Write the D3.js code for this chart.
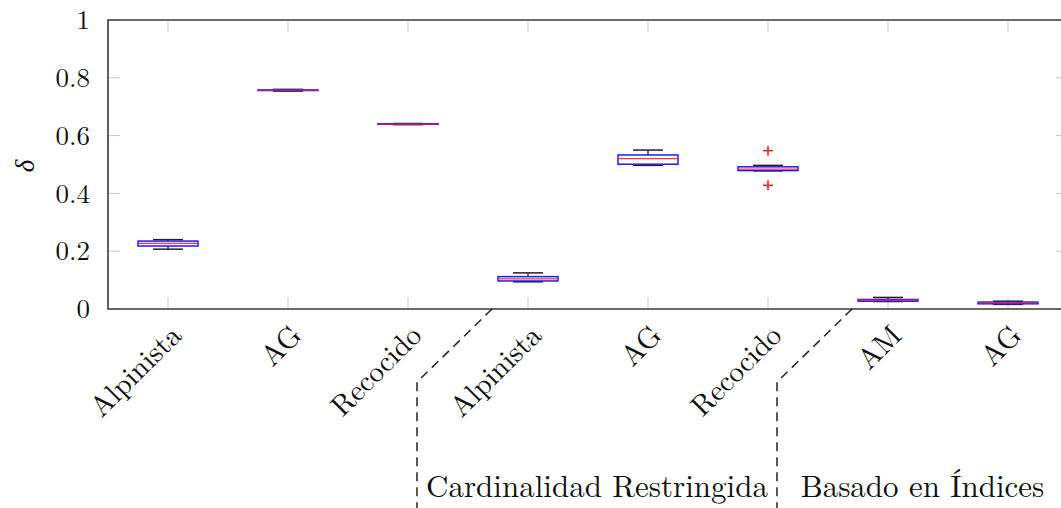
<!DOCTYPE html>
<html><head><meta charset="utf-8">
<script src="https://cdn.jsdelivr.net/npm/d3@7"></script>
<style>
html,body{margin:0;padding:0;background:#fff;}
svg{display:block;}
</style></head>
<body>
<svg id="chart" width="1061" height="508"></svg>
<script>
// ---- data ----
const categories = ["Alpinista","AG","Recocido","Alpinista","AG","Recocido","AM","AG"];
const mins    = [0.207,0.754,0.638,0.094,0.497,0.478,0.026,0.016];
const q1s     = [0.218,0.756,0.639,0.097,0.501,0.479,0.027,0.018];
const medians = [0.227,0.757,0.640,0.104,0.520,0.484,0.031,0.021];
const q3s     = [0.235,0.758,0.641,0.112,0.533,0.492,0.033,0.024];
const maxs    = [0.240,0.760,0.642,0.125,0.550,0.497,0.040,0.027];
const outlierCat = [6,6];
const outlierVal = [0.548,0.428];
const yTicks = [0,0.2,0.4,0.6,0.8,1];
const yTickLabels = ["0","0.2","0.4","0.6","0.8","1"];
const groupNames = ["Cardinalidad Restringida","Basado en Índices"];
const groupStarts = [4,7]; // first category (1-based) of each group
const yLabel = "δ";

// ---- layout ----
const FONT = '"Latin Modern Roman","Liberation Serif",serif';
const svg = d3.select("#chart");
const x = d3.scaleLinear().domain([0.5, 8.5]).range([108, 1068]);
const y = d3.scaleLinear().domain([0, 1]).range([309, 20]);
const boxW = 0.5, capW = 0.25, tickLen = 12;
const x0 = x(0.5), x1 = x(8.5), yb = y(0), yt = y(1);

const tickCol = "#c9c9c9";
const g = svg.append("g");
categories.forEach((c,i)=>{
  const xp = x(i+1);
  g.append("line").attr("x1",xp).attr("x2",xp).attr("y1",yb).attr("y2",yb-tickLen).attr("stroke",tickCol).attr("stroke-width",1);
  g.append("line").attr("x1",xp).attr("x2",xp).attr("y1",yt).attr("y2",yt+tickLen).attr("stroke",tickCol).attr("stroke-width",1);
});
yTicks.forEach(v=>{
  g.append("line").attr("x1",x0).attr("x2",x0+tickLen).attr("y1",y(v)).attr("y2",y(v)).attr("stroke",tickCol).attr("stroke-width",1);
  g.append("line").attr("x1",x1).attr("x2",x1-tickLen).attr("y1",y(v)).attr("y2",y(v)).attr("stroke",tickCol).attr("stroke-width",1);
});

// boxes
categories.forEach((c,i)=>{
  const xc = x(i+1);
  const hw = (x(boxW)-x(0))/2, cw = (x(capW)-x(0))/2;
  g.append("line").attr("x1",xc).attr("x2",xc).attr("y1",y(maxs[i])).attr("y2",y(q3s[i])).attr("stroke","#222").attr("stroke-width",1.3);
  g.append("line").attr("x1",xc).attr("x2",xc).attr("y1",y(mins[i])).attr("y2",y(q1s[i])).attr("stroke","#222").attr("stroke-width",1.3);
  g.append("line").attr("x1",xc-cw).attr("x2",xc+cw).attr("y1",y(maxs[i])).attr("y2",y(maxs[i])).attr("stroke","#222").attr("stroke-width",1.5);
  g.append("line").attr("x1",xc-cw).attr("x2",xc+cw).attr("y1",y(mins[i])).attr("y2",y(mins[i])).attr("stroke","#222").attr("stroke-width",1.5);
  g.append("rect").attr("x",xc-hw).attr("y",y(q3s[i])).attr("width",2*hw).attr("height",Math.max(0.01,y(q1s[i])-y(q3s[i])))
    .attr("fill","none").attr("stroke","#1a1aff").attr("stroke-width",1.5);
  g.append("line").attr("x1",xc-hw).attr("x2",xc+hw).attr("y1",y(medians[i])).attr("y2",y(medians[i])).attr("stroke","#ff2020").attr("stroke-width",1.2).attr("stroke-opacity",0.9);
});
// outliers
outlierCat.forEach((c,k)=>{
  const xc = x(c), yc = y(outlierVal[k]), s = 5;
  g.append("line").attr("x1",xc-s).attr("x2",xc+s).attr("y1",yc).attr("y2",yc).attr("stroke","#ff2020").attr("stroke-width",1.6);
  g.append("line").attr("x1",xc).attr("x2",xc).attr("y1",yc-s).attr("y2",yc+s).attr("stroke","#ff2020").attr("stroke-width",1.6);
});

// axis frame
g.append("path").attr("d",`M${x1},${yt}H${x0}V${yb}H${x1}`).attr("fill","none").attr("stroke","#3a3a3a").attr("stroke-width",1.6);

function txt(sel, size){
  return sel.style("font-family",FONT).style("font-size",size+"px").style("fill","#111");
}
// y tick labels
yTicks.forEach((v,k)=>{
  txt(svg.append("text").attr("x",90).attr("y",y(v)).attr("dy","0.34em").attr("text-anchor","end"),27).text(yTickLabels[k]);
});
// y label
txt(svg.append("text").attr("transform","translate(34,166) rotate(-90)").attr("text-anchor","middle"),27)
  .style("font-style","italic").text(yLabel);

// x tick labels (rotated 45)
categories.forEach((c,i)=>{
  txt(svg.append("text").attr("transform",`translate(${x(i+1)+8},${yb+21}) rotate(-45)`)
    .attr("text-anchor","end").attr("dy","0.35em"),29).text(c);
});

// group separators and labels
const dx = 0.7, dxb = 0.075, yBend = 382;
groupStarts.forEach((s,k)=>{
  const xt = x(s-1+dx), xb2 = x(s-1+dxb);
  g.append("path").attr("d",`M${xt},${yb}L${xb2},${yBend}V508`).attr("fill","none")
    .attr("stroke","#222").attr("stroke-width",1.5).attr("stroke-dasharray","9,6");
});
const bounds = groupStarts.map(s=>x(s-1+dxb)).concat([x(8.5)]);
groupNames.forEach((n,k)=>{
  const cx = (bounds[k]+bounds[k+1])/2;
  txt(svg.append("text").attr("x",cx).attr("y",497).attr("text-anchor","middle"),31).text(n);
});
</script>
</body></html>
